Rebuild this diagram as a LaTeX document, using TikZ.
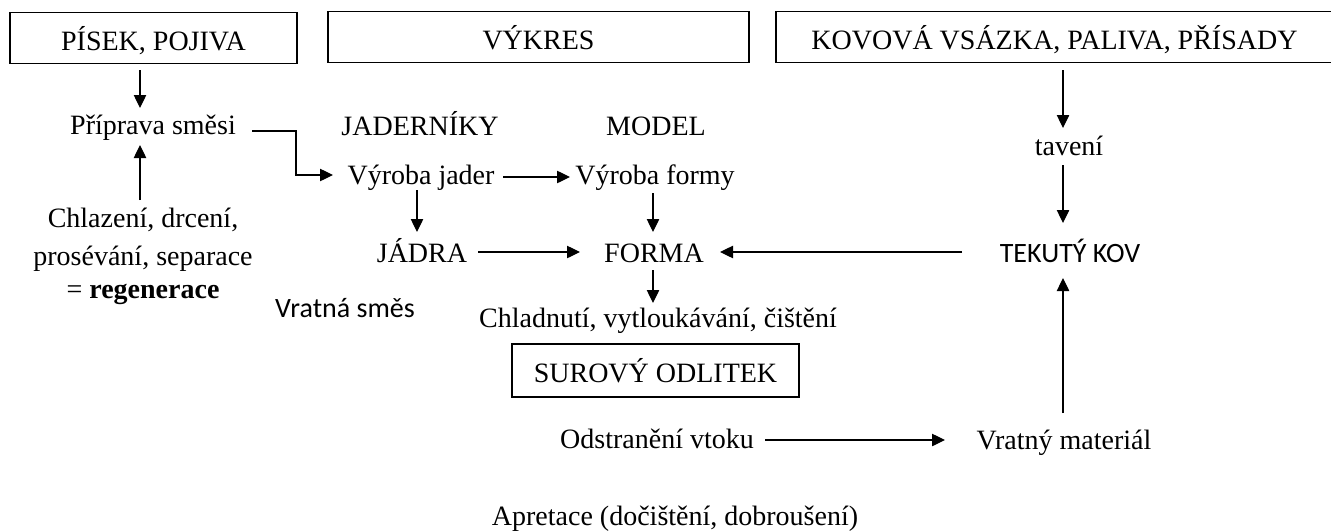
\documentclass[tikz,border=0pt]{standalone}
\usepackage{fontspec}
\setmainfont{Liberation Serif}
\newfontfamily\calfont{Carlito}
\usetikzlibrary{arrows.meta,calc}
\begin{document}
\begin{tikzpicture}[x=0.5pt,y=-0.5pt,
  every node/.style={font=\fontsize{14}{17}\selectfont, inner sep=0pt},
  txt/.style={anchor=base},
  cal/.style={anchor=base, font=\calfont\fontsize{14}{17}\selectfont},
  boxnode/.style={draw, line width=0.6pt, text height=19pt, text depth=6.5pt},
  arr/.style={line width=0.55pt, -{Triangle[length=6.5pt,width=6.2pt]}}]
\useasboundingbox (0,0) rectangle (1331,530);
% boxes
\node[boxnode, minimum width=143.5pt] (pisek) at (153.5,38) {PÍSEK, POJIVA};
\node[boxnode, minimum width=210.5pt] (vykres) at (538.5,37) {VÝKRES};
\node[boxnode, minimum width=278.5pt] (kov) at (1054.5,37) {KOVOVÁ VSÁZKA, PALIVA, PŘÍSADY};
\node[boxnode, minimum width=143.5pt, text depth=7.5pt] (surovy) at (655.5,370.5) {SUROVÝ ODLITEK};
% texts
\node[txt] (prip) at (153,134) {Příprava směsi};
\node[txt] (chl1) at (143,227) {Chlazení, drcení,};
\node[txt] (chl2) at (143,265) {prosévání, separace};
\node[txt] (chl3) at (143,298) {= \textbf{regenerace}};
\node[cal] (vsmes) at (345,317) {Vratná směs};
\node[txt] (jadern) at (420,135) {JADERNÍKY};
\node[txt] (model) at (656,135) {MODEL};
\node[txt] (vj) at (421,184) {Výroba jader};
\node[txt] (vf) at (655,184) {Výroba formy};
\node[txt] (jadra) at (422,262) {JÁDRA};
\node[txt] (forma) at (654,262) {FORMA};
\node[txt] (tav) at (1069,155) {tavení};
\node[cal] (tekuty) at (1070,262) {TEKUTÝ KOV};
\node[txt] (chlad) at (658,327) {Chladnutí, vytloukávání, čištění};
\node[txt] (odstr) at (657,448) {Odstranění vtoku};
\node[txt] (vratny) at (1064,449) {Vratný materiál};
\node[txt] (apret) at (675,525) {Apretace (dočištění, dobroušení)};
% arrows
\draw[arr] ($(pisek.south)+(-13.5,6)$) -- ($(prip.base)+(-13,-26)$);
\draw[arr] ($(chl1.base)+(-3,-27)$) -- ($(prip.base)+(-13,11)$);
\draw[arr] ($(prip.base)+(99,-3)$) -- ++(44,0) |- ($(vj.base)+(-88,-9)$);
\draw[arr] ($(vj.base)+(82,-7)$) -- ($(vf.base)+(-85,-7)$);
\draw[arr] ($(vj.base)+(-4,6)$) -- ($(jadra.base)+(-5,-30)$);
\draw[arr] ($(vf.base)+(-2,9)$) -- ($(forma.base)+(-1,-30)$);
\draw[arr] ($(jadra.base)+(56,-10)$) -- ($(forma.base)+(-74,-10)$);
\draw[arr] ($(tekuty.base)+(-108,-10)$) -- ($(forma.base)+(66,-10)$);
\draw[arr] ($(kov.south)+(8.5,7)$) -- ($(tav.base)+(-6,-27)$);
\draw[arr] ($(tav.base)+(-6,10)$) -- ($(tekuty.base)+(-7,-39)$);
\draw[arr] ($(forma.base)+(-1,8)$) -- ($(chlad.base)+(-5,-24)$);
\draw[arr] ($(odstr.base)+(108,-8)$) -- ($(vratny.base)+(-119,-9)$);
\draw[arr] ($(vratny.base)+(-1,-36)$) -- ($(tekuty.base)+(-7,16)$);
\end{tikzpicture}
\end{document}
